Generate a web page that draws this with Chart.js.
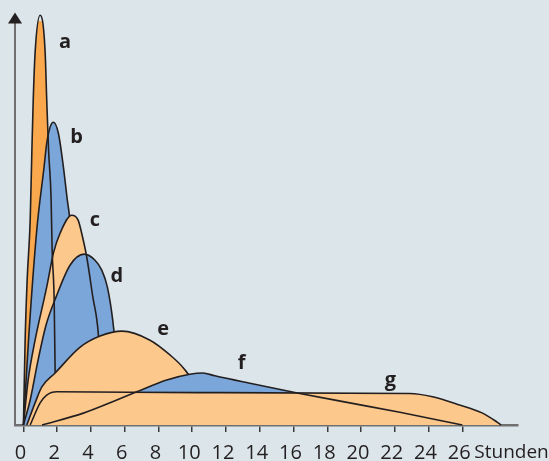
<!DOCTYPE html>
<html>
<head>
<meta charset="utf-8">
<script src="https://cdn.jsdelivr.net/npm/chart.js@4.4.1/dist/chart.umd.min.js"></script>
<style>
  body { margin: 0; background: #dce6ea; }
  canvas { display: block; }
</style>
</head>
<body>
<canvas id="chart" width="549" height="461"></canvas>
<script>
const xTicks = [0, 2, 4, 6, 8, 10, 12, 14, 16, 18, 20, 22, 24, 26];
const unitLabel = "Stunden";

const aHours = [0, 0.1, 0.22, 0.4, 0.5, 0.58, 0.7, 0.99, 1.28, 1.38, 1.49, 1.64, 1.7, 1.82, 1.88, 1.93];
const aLevel = [0, 20.7, 35.4, 50, 67, 79.3, 91.5, 100, 91.5, 79.3, 67, 55, 42.7, 30.5, 12.2, 0];

const bHours = [0, 0.3, 0.79, 1.22, 1.38, 1.58, 1.78, 2.07, 2.37, 2.6, 2.72, 2.94, 3.12, 3.3];
const bLevel = [0, 20.7, 47.6, 62.9, 68.8, 72.7, 73.9, 71.2, 62.9, 54.9, 51.2, 40.2, 25.6, 0];

const cHours = [0, 0.28, 0.69, 1.38, 1.78, 2.17, 2.86, 3.24, 3.45, 3.75, 4.1, 4.44, 4.58, 4.65];
const cLevel = [0, 11, 20.7, 33.7, 42, 46.8, 51.2, 50, 46.8, 41, 31.5, 22, 11, 0];

const dHours = [0, 0.4, 0.87, 1.34, 1.93, 2.76, 3.59, 4.24, 4.64, 4.97, 5.29, 5.5, 5.65, 5.7];
const dLevel = [0, 6.1, 15.9, 24.4, 31.2, 39, 41.7, 40.2, 37.8, 33.7, 25.6, 17, 6, 0];

const eHours = [0.2, 0.69, 1.09, 1.88, 3.36, 4.54, 5.84, 7.5, 8.68, 9.5, 10.1, 10.45, 10.6];
const eLevel = [0, 5.4, 9.3, 12.7, 19, 21.7, 22.9, 20.7, 17.1, 13.8, 10, 5, 0];

const fHours = [1.1, 3.55, 5.53, 6.71, 8.49, 9.86, 10.63, 11.34, 13.4, 16.37, 19.33, 22.3, 26];
const fLevel = [0, 2.9, 6.1, 8.1, 11, 12.4, 12.7, 12, 10.2, 7.7, 5.4, 3.1, 0];

const gHours = [0.4, 0.99, 1.38, 1.98, 10.45, 22.88, 24.24, 25.84, 27.2, 28.03, 28.3];
const gLevel = [0, 5.4, 7.3, 8.1, 7.9, 7.7, 6.9, 4.9, 2.9, 0.8, 0];

const curveNames = ["a", "b", "c", "d", "e", "f", "g"];
const labelHours = [2.47, 3.15, 4.24, 5.53, 8.28, 12.92, 21.74];
const labelLevel = [91.9, 68.9, 48.5, 34.8, 21.96, 13.59, 9.51];

const orange = "#f9a84d";
const light = "#fdc88b";
const blue = "#7ba6d9";
const ink = "#231f20";

// which layer (bottom -> top) the fill and the outline of each curve sit on
const curves = [
  { hours: aHours, level: aLevel, color: orange, fillLayer: 1, lineLayer: 6 },
  { hours: bHours, level: bLevel, color: blue, fillLayer: 2, lineLayer: 3 },
  { hours: cHours, level: cLevel, color: light, fillLayer: 4, lineLayer: 6 },
  { hours: dHours, level: dLevel, color: blue, fillLayer: 5, lineLayer: 6 },
  { hours: eHours, level: eLevel, color: light, fillLayer: 7, lineLayer: 8 },
  { hours: fHours, level: fLevel, color: blue, fillLayer: 9, lineLayer: 11 },
  { hours: gHours, level: gLevel, color: light, fillLayer: 10, lineLayer: 11 },
];

const datasets = [];
curves.forEach((c) => {
  const pts = c.hours.map((h, i) => ({ x: h, y: c.level[i] }));
  datasets.push({
    data: pts,
    fill: "origin",
    backgroundColor: c.color,
    borderColor: "transparent",
    borderWidth: 0,
    order: 100 - c.fillLayer,
  });
  datasets.push({
    data: pts,
    fill: false,
    borderColor: ink,
    borderWidth: 1.6,
    order: 100 - c.lineLayer,
  });
});

const overlay = {
  id: "overlay",
  afterDraw(chart) {
    const ctx = chart.ctx;
    const xs = chart.scales.x;
    const ys = chart.scales.y;
    const left = chart.chartArea.left;
    ctx.save();
    ctx.fillStyle = ink;
    ctx.beginPath();
    ctx.moveTo(left, 12.5);
    ctx.lineTo(left - 7, 23.5);
    ctx.lineTo(left + 7, 23.5);
    ctx.closePath();
    ctx.fill();

    ctx.font = "bold 20px 'Open Sans'";
    ctx.textAlign = "center";
    ctx.textBaseline = "alphabetic";
    curveNames.forEach((n, i) => {
      ctx.fillText(n, xs.getPixelForValue(labelHours[i]), ys.getPixelForValue(labelLevel[i]));
    });

    ctx.font = "19px 'Open Sans'";
    ctx.textAlign = "left";
    ctx.fillText(unitLabel, xs.getPixelForValue(26) + 12, 457.5);
    ctx.restore();
  },
};

new Chart(document.getElementById("chart"), {
  type: "line",
  data: { datasets: datasets },
  plugins: [overlay],
  options: {
    responsive: false,
    animation: false,
    events: [],
    layout: { padding: { top: 21, right: 31, left: 0, bottom: 0 } },
    elements: {
      point: { radius: 0 },
      line: { cubicInterpolationMode: "monotone" },
    },
    datasets: { line: { clip: false } },
    plugins: { legend: { display: false }, tooltip: { enabled: false } },
    scales: {
      x: {
        type: "linear",
        min: -0.5,
        max: 29.3,
        z: 1,
        afterBuildTicks: (scale) => {
          scale.ticks = xTicks.map((v) => ({ value: v }));
        },
        afterFit: (scale) => {
          scale.height = 36;
        },
        ticks: {
          autoSkip: false,
          maxRotation: 0,
          padding: 9,
          labelOffset: -3,
          color: ink,
          font: { family: "Open Sans", size: 20 },
        },
        grid: {
          drawOnChartArea: false,
          drawTicks: true,
          tickLength: 7,
          lineWidth: 1.5,
          color: "#3a3a3a",
        },
        border: { color: "#707070", width: 2.5 },
      },
      y: {
        min: 0,
        max: 98.6,
        ticks: { display: false },
        grid: { display: false },
        border: { color: "#707070", width: 2 },
        afterFit: (scale) => {
          scale.width = 15;
        },
      },
    },
  },
});
</script>
</body>
</html>
